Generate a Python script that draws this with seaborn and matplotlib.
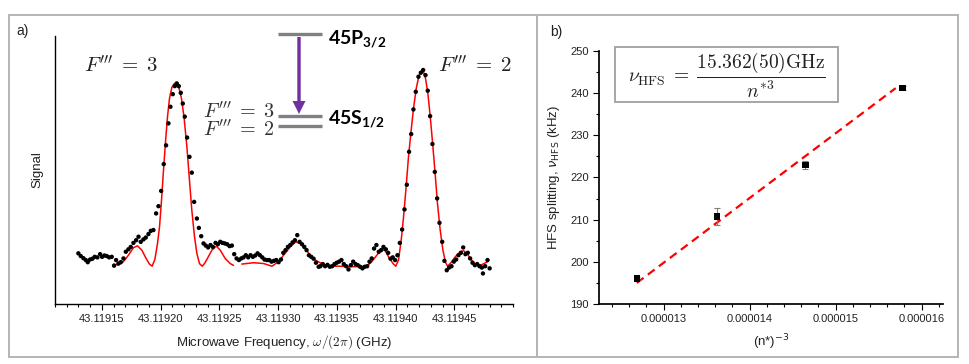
import matplotlib
matplotlib.use("Agg")
import matplotlib.pyplot as plt
import numpy as np
import pandas as pd
import seaborn as sns
from matplotlib.patches import Rectangle, FancyArrow
from matplotlib.lines import Line2D
from matplotlib.ticker import MultipleLocator, FormatStrFormatter, NullLocator, FixedLocator

# ---------------- data ----------------
# panel a): scan, frequency offset (kHz) above 43.119 GHz, signal (arb. units)
scan_offset_kHz = [
    129.9, 131.9, 134.2, 136.2, 137.9, 139.9, 141.9, 143.8, 146.1, 148.4,
    150.1, 152.1, 154.1, 156.1, 158.3, 160.3, 162.0, 164.0, 166.0, 168.3,
    170.3, 172.5, 174.5, 176.8, 179.1, 181.1, 183.0, 185.3, 187.3, 189.6,
    191.6, 193.8, 196.1, 198.1, 200.4, 202.6, 204.6, 206.6, 208.3, 210.3,
    212.0, 213.7, 215.4, 217.1, 218.8, 220.5, 222.5, 224.5, 226.5, 228.5,
    230.8, 232.5, 234.5, 236.5, 238.4, 240.4, 242.4, 244.4, 246.7, 248.7,
    250.7, 252.6, 254.6, 256.6, 258.6, 260.6, 262.6, 264.6, 266.6, 268.6,
    270.5, 272.5, 274.5, 276.5, 278.5, 280.5, 282.5, 284.5, 286.5, 288.4,
    290.4, 292.4, 294.4, 296.4, 298.4, 300.4, 302.4, 304.4, 306.3, 308.3,
    310.3, 312.3, 314.3, 316.3, 318.3, 320.3, 322.3, 324.2, 326.2, 328.2,
    330.2, 332.2, 334.5,
    336.0, 338.0, 340.0, 342.0, 344.0, 346.0, 348.0, 349.9, 351.9, 353.9,
    355.9, 357.9, 359.9, 361.9, 363.9, 365.9, 367.8, 369.8, 371.8, 373.8,
    375.8, 377.8, 379.7, 381.7, 383.7, 385.7, 387.7, 389.7, 391.7, 393.7,
    395.7, 397.6, 399.6, 401.6, 403.6, 405.6, 407.6, 409.6, 411.5, 413.3,
    415.2, 417.2, 419.5, 421.5, 423.5, 425.5, 427.4, 429.4, 431.4, 433.4,
    435.4, 437.4, 439.7, 441.6, 443.6, 445.6, 447.6, 449.6, 451.6, 453.6,
    455.6, 457.6, 459.5, 461.5, 463.5, 465.5, 467.5, 469.5, 471.5, 473.5,
    474.4, 476.3, 478.3, 480.1,
]
scan_signal = [
    18.9, 17.9, 17.1, 16.4, 15.6, 16.6, 16.9, 17.6, 17.4, 18.6,
    17.6, 18.1, 17.9, 17.4, 17.6, 14.3, 16.4, 15.1, 15.6, 17.0,
    19.5, 20.4, 21.3, 22.8, 23.8, 25.1, 23.2, 24.1, 24.8, 26.1,
    27.3, 27.6, 33.8, 36.5, 42.2, 52.2, 59.2, 67.4, 73.6, 78.3,
    81.3, 82.3, 81.3, 78.8, 74.8, 69.9, 62.1, 54.9, 49.0, 38.1,
    31.9, 28.4, 25.3, 22.6, 21.8, 21.1, 22.0, 21.3, 22.8, 22.3,
    23.2, 22.8, 22.6, 22.3, 21.6, 21.8, 18.6, 17.0, 16.4, 17.0,
    17.4, 18.2, 17.4, 18.2, 17.6, 18.1, 18.9, 18.2, 17.4, 16.6,
    16.4, 16.4, 15.8, 16.1, 16.4, 15.6, 16.6, 19.1, 20.1, 21.3,
    22.0, 23.0, 23.8, 25.7, 23.2, 22.3, 21.3, 20.1, 18.2, 17.6,
    16.9, 15.4, 13.9,
    14.1, 14.9, 14.1, 14.6, 13.9, 14.1, 14.9, 15.4, 15.8, 16.4,
    14.9, 14.1, 12.9, 14.5, 15.8, 14.9, 14.5, 13.9, 13.3, 13.9,
    14.1, 15.8, 17.0, 20.7, 22.0, 19.5, 20.1, 21.3, 20.4, 19.1,
    16.9, 17.4, 16.4, 18.2, 22.8, 27.8, 35.3, 44.5, 56.8, 63.4,
    72.6, 79.2, 84.8, 86.3, 87.3, 85.4, 79.6, 70.1, 59.7, 49.3,
    39.4, 30.3, 23.2, 16.1, 12.6, 13.6, 14.1, 15.8, 16.6, 18.2,
    19.1, 21.1, 18.6, 19.1, 17.0, 15.4, 14.5, 14.9, 14.1, 13.6,
    11.4, 14.1, 16.4, 13.3,
]
# fitted line shape, two segments
fit1_offset_kHz = [159.8, 164.0, 168.3, 172.5, 176.8, 180.2, 183.9, 187.6, 190.4, 192.7,
                   195.0, 197.3, 199.0, 200.7, 202.4, 204.1, 205.8, 207.5, 209.5, 211.7,
                   213.7, 215.7, 217.7, 220.0, 222.3, 224.5, 226.5, 228.8, 230.8, 233.0,
                   235.3, 237.3, 239.3, 243.6, 247.3, 250.7, 254.9, 259.2, 262.0]
fit1_signal = [14.8, 14.6, 15.8, 18.2, 21.0, 21.7, 20.1, 17.0, 14.9, 14.1,
               16.6, 22.6, 28.8, 38.8, 50.0, 60.5, 69.9, 76.7, 80.8, 82.3,
               82.0, 80.4, 76.7, 69.2, 58.7, 46.2, 35.0, 25.1, 18.9, 15.1,
               14.1, 15.1, 16.6, 20.1, 21.6, 20.1, 17.0, 15.1, 14.4]
fit2_offset_kHz = [269.1, 279.1, 287.6, 294.7, 300.4, 304.6, 310.3, 314.9, 318.8, 323.1,
                   327.4, 331.6, 335.7, 341.4, 352.8, 364.2, 375.5, 379.8, 384.0, 388.3,
                   391.1, 394.8, 398.2, 400.2, 402.5, 404.8, 406.8, 409.0, 411.0, 413.3,
                   415.3, 417.6, 419.8, 422.1, 423.8, 425.5, 427.5, 429.5, 431.8, 433.8,
                   435.7, 438.0, 440.3, 442.6, 444.3, 447.1, 450.8, 455.1, 457.9, 460.8,
                   464.2, 467.9, 470.7, 474.4, 478.4]
fit2_signal = [14.9, 15.4, 15.1, 14.1, 15.8, 18.2, 21.3, 23.2, 22.6, 20.7,
               18.2, 16.4, 15.4, 14.1, 14.1, 13.9, 14.1, 15.8, 18.2, 20.4,
               19.9, 17.0, 14.9, 14.1, 16.4, 23.8, 32.5, 43.7, 54.9, 64.9,
               73.0, 80.4, 85.0, 87.0, 86.6, 84.2, 78.6, 70.1, 58.7, 48.1,
               37.5, 27.6, 20.1, 15.4, 14.1, 15.4, 17.6, 19.5, 19.9, 18.9,
               16.6, 14.9, 14.1, 14.9, 15.8]
freq_tick_labels = ["43.11915", "43.11920", "43.11925", "43.11930",
                    "43.11935", "43.11940", "43.11945"]

# panel b): HFS splitting vs (n*)^-3
n_star_inv3 = [12.69e-6, 13.62e-6, 14.65e-6, 15.78e-6]
hfs_kHz = [196.0, 210.8, 223.0, 241.2]
hfs_err_kHz = [0.4, 2.0, 1.0, 0.4]
fit_x = [12.69e-6, 15.70e-6]
fit_y = [195.0, 241.2]

BASE_GHZ = 43.119

# ---------------- figure ----------------
W, H = 969, 364
sns.set_theme(style="ticks")
plt.rcParams["font.family"] = ["Liberation Sans", "DejaVu Sans"]
plt.rcParams["mathtext.fontset"] = "cm"
plt.rcParams["mathtext.rm"] = "Lato"
plt.rcParams["mathtext.bf"] = "Lato:bold"
plt.rcParams["axes.edgecolor"] = "black"
plt.rcParams["xtick.color"] = "black"
plt.rcParams["ytick.color"] = "black"

fig = plt.figure(figsize=(W / 100, H / 100), dpi=100)
fig.patch.set_facecolor("white")


def fx(x):
    return x / W


def fy(y):
    return 1 - y / H


# panel frames
for (x0, x1) in [(9, 537), (537, 958)]:
    fig.add_artist(Rectangle((fx(x0), fy(357)), (x1 - x0) / W, (357 - 15) / H,
                             transform=fig.transFigure, fill=False,
                             ec="#b4b4b4", lw=1.4))

# ---------- panel a ----------
axL = fig.add_axes([fx(55), fy(304), 458 / W, 268 / H])
scan = pd.DataFrame({"f": [BASE_GHZ + v * 1e-6 for v in scan_offset_kHz],
                     "s": scan_signal})
f1 = pd.DataFrame({"f": [BASE_GHZ + v * 1e-6 for v in fit1_offset_kHz], "s": fit1_signal})
f2 = pd.DataFrame({"f": [BASE_GHZ + v * 1e-6 for v in fit2_offset_kHz], "s": fit2_signal})
sns.lineplot(data=f1, x="f", y="s", ax=axL, color="#ff0000", lw=1.1,
             estimator=None, sort=False, zorder=2)
sns.lineplot(data=f2, x="f", y="s", ax=axL, color="#ff0000", lw=1.1,
             estimator=None, sort=False, zorder=2)
sns.scatterplot(data=scan, x="f", y="s", ax=axL, color="black", s=10,
                edgecolor="none", zorder=3)
axL.set_xlim(43.11911, 43.1195)
axL.set_ylim(0, 100)
axL.xaxis.set_major_locator(FixedLocator([float(t) for t in freq_tick_labels]))
axL.set_xticklabels(freq_tick_labels)
axL.xaxis.set_minor_locator(MultipleLocator(1e-5))
axL.yaxis.set_major_locator(NullLocator())
axL.yaxis.set_minor_locator(NullLocator())
axL.tick_params(axis="x", which="major", direction="out", length=4.5, width=0.8,
                labelsize=8, pad=3, labelcolor="#222222")
axL.tick_params(axis="x", which="minor", direction="out", length=2.5, width=0.8)
for sp in ["top", "right"]:
    axL.spines[sp].set_visible(False)
for sp in ["left", "bottom"]:
    axL.spines[sp].set_linewidth(1.0)
axL.set_xlabel(r"Microwave Frequency, $\omega/(2\pi)$ (GHz)", fontsize=9.5,
               labelpad=6, color="#222222")
axL.set_ylabel("Signal", fontsize=9.5, labelpad=8, color="#222222")
axL.patch.set_alpha(0)

fig.text(fx(16), fy(31), "a)", fontsize=10, va="center", ha="left", color="#222222")

# F''' labels
flab = r"$F'''\;=\;%s$"
fig.text(fx(84), fy(72), flab % "3", fontsize=15, ha="left", va="baseline", color="#222222")
fig.text(fx(512), fy(72), flab % "2", fontsize=15, ha="right", va="baseline", color="#222222")
fig.text(fx(275), fy(121), (flab % "3") + "\n" + (flab % "2"), fontsize=14.5,
         ha="right", va="center", multialignment="right", linespacing=0.88,
         color="#333333")

# energy levels
for yl in [34, 116, 126]:
    fig.add_artist(Line2D([fx(278), fx(322)], [fy(yl), fy(yl)], transform=fig.transFigure,
                          color="#808080", lw=2.4, solid_capstyle="butt"))
fig.add_artist(FancyArrow(fx(299), fy(37), 0, -(114 - 37) / H, width=3.4 / W,
                          head_width=13 / W, head_length=13 / H,
                          length_includes_head=True, transform=fig.transFigure,
                          color="#7030a0", lw=0))
fig.text(fx(328), fy(44), r"$\mathbf{45P_{3/2}}$", fontsize=14, ha="left", va="baseline",
         math_fontfamily="custom", color="black")
fig.text(fx(328), fy(124), r"$\mathbf{45S_{1/2}}$", fontsize=14, ha="left", va="baseline",
         math_fontfamily="custom", color="black")

# ---------- panel b ----------
axR = fig.add_axes([fx(599), fy(304), 344 / W, 253 / H])
pts = pd.DataFrame({"x": n_star_inv3, "y": hfs_kHz, "e": hfs_err_kHz})
fitdf = pd.DataFrame({"x": fit_x, "y": fit_y})
sns.lineplot(data=fitdf, x="x", y="y", ax=axR, color="#ff0000", lw=1.6,
             linestyle=(0, (3.8, 2.4)), estimator=None, sort=False, zorder=2)
axR.errorbar(pts["x"], pts["y"], yerr=pts["e"], fmt="none", ecolor="#7f7f7f",
             elinewidth=0.8, capsize=2.5, capthick=0.8, zorder=3)
sns.scatterplot(data=pts, x="x", y="y", ax=axR, marker="s", color="black", s=22,
                edgecolor="none", zorder=4)
axR.set_xlim(12.25e-6, 16.25e-6)
axR.set_ylim(190, 250)
axR.xaxis.set_major_locator(MultipleLocator(1e-6))
axR.xaxis.set_minor_locator(MultipleLocator(0.2e-6))
axR.xaxis.set_major_formatter(FormatStrFormatter("%.6f"))
axR.yaxis.set_major_locator(MultipleLocator(10))
axR.yaxis.set_minor_locator(MultipleLocator(5))
axR.tick_params(which="major", direction="out", length=4.5, width=0.8, labelsize=8,
                pad=3, labelcolor="#222222")
axR.tick_params(which="minor", direction="out", length=2.5, width=0.8)
for sp in ["top", "right"]:
    axR.spines[sp].set_visible(False)
axR.set_xlabel(r"(n*)$^{\mathsf{-3}}$", fontsize=9.5, labelpad=6, color="#222222",
               math_fontfamily="dejavusans")
axR.set_ylabel(r"HFS splitting, $\nu_{\mathrm{HFS}}$ (kHz)", fontsize=9.5, labelpad=6,
               color="#222222", math_fontfamily="dejavusans")
axR.patch.set_alpha(0)

fig.text(fx(550), fy(32), "b)", fontsize=10, va="center", ha="left", color="#222222")

# formula box
fig.add_artist(Rectangle((fx(615), fy(102)), (838 - 615) / W, (102 - 47) / H,
                         transform=fig.transFigure, fill=False, ec="#a6a6a6", lw=1.4))
fig.text(fx(727), fy(75),
         r"$\nu_{\mathrm{HFS}}\;=\;\dfrac{15.362(50)\mathrm{GHz}}{n^{*3}}$",
         fontsize=14, ha="center", va="center", color="#222222")

fig.savefig("out.png", dpi=100, facecolor="white")
